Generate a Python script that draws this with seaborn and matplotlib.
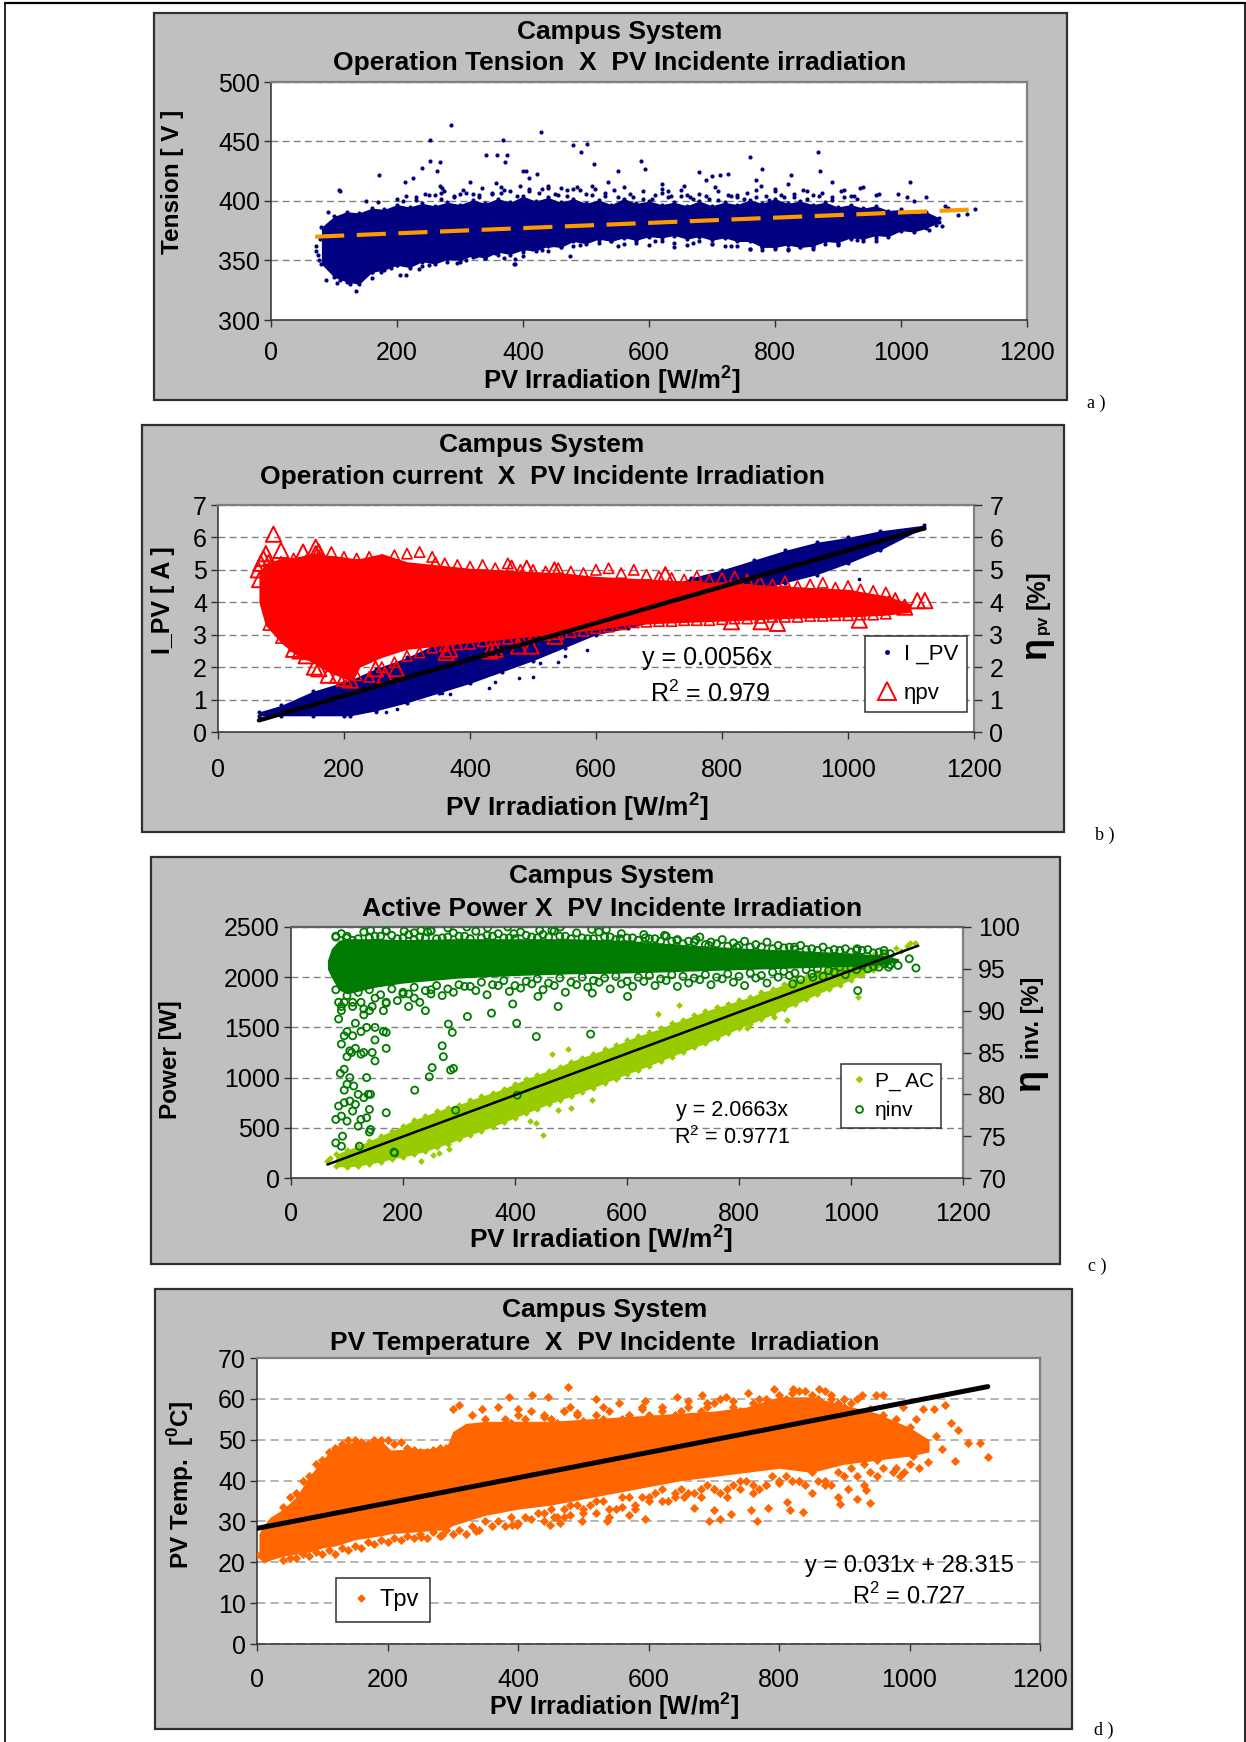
import matplotlib
matplotlib.use("Agg")
import matplotlib.pyplot as plt
from matplotlib.patches import Rectangle
from matplotlib.lines import Line2D
import seaborn as sns

W, H = 1246, 1742
SANS = "Liberation Sans"
SERIF = "Liberation Serif"

irr_ticks = [0, 200, 400, 600, 800, 1000, 1200]
edge_x = list(range(80, 1080, 20))  # irradiation steps used for the hand read cloud edges
edge2_x = list(range(90, 1090, 20))

# a) tension
a_hi_x = list(range(80, 1061, 20))
a_hi = [378, 387, 391, 390, 394, 393, 397, 395, 398, 396,
        399, 397, 401, 398, 402, 399, 404, 400, 403, 399,
        402, 398, 401, 397, 402, 398, 400, 397, 399, 396,
        400, 396, 399, 397, 401, 398, 402, 398, 400, 397,
        399, 395, 397, 394, 396, 392, 393, 389, 391, 386]
a_lo = [347, 336, 332, 330, 340, 342, 346, 344, 349, 347,
        351, 350, 354, 352, 357, 355, 359, 358, 362, 361,
        366, 364, 368, 366, 369, 367, 370, 369, 371, 368,
        370, 367, 369, 366, 366, 361, 361, 363, 361, 362,
        366, 365, 369, 368, 371, 370, 375, 374, 377, 382]
a_left_x = [72, 74, 76, 78, 72]
a_left_y = [362, 355, 350, 368, 358]
a_top_x = [200, 215, 230, 245, 260, 275, 290, 305, 320, 335, 350, 365, 380, 395, 410, 425, 440, 455, 470, 485,
           500, 515, 530, 545, 560, 575, 590, 605, 620, 635, 650, 665, 680, 695, 710, 725, 740, 755, 770, 785,
           800, 815, 830, 845, 860, 875, 890, 905, 920, 935]
a_top_y = [402, 404, 401, 406, 405, 408, 403, 409, 406, 411, 407, 412, 408, 413, 410, 407, 411, 405, 409, 412,
           406, 410, 404, 409, 412, 403, 408, 402, 407, 404, 409, 403, 406, 402, 408, 405, 403, 407, 409, 404,
           408, 403, 406, 409, 405, 407, 403, 408, 404, 411]
a_top2_x = list(range(210, 950, 20))
a_top2_y = [400, 403, 405, 402, 404, 407, 403, 406, 409, 404, 408, 410, 406, 404, 409, 405, 407, 403, 406, 402,
            405, 403, 404, 402, 404, 401, 404, 402, 403, 401, 405, 403, 402, 404, 401, 403, 402]
a_bot_x = [160, 175, 190, 205, 220, 235, 250, 265, 280, 295, 310, 325, 340, 355, 370, 385, 400, 415, 430, 445,
           460, 490, 520, 550, 580, 610, 640, 670, 700, 730, 760, 780, 800, 820, 840, 860, 880, 900, 930, 960]
a_bot_y = [335, 340, 344, 338, 349, 343, 346, 351, 349, 348, 350, 354, 352, 356, 352, 347, 357, 360, 359, 363,
           364, 363, 367, 362, 365, 366, 361, 365, 364, 362, 360, 359, 360, 359, 361, 360, 364, 363, 367, 366]
a_bot2_x = list(range(120, 980, 20))
a_bot2_y = [335, 338, 340, 344, 346, 348, 345, 350, 352, 349, 353, 352, 355, 358, 354, 360, 358, 361, 362, 366,
            365, 366, 364, 367, 363, 366, 365, 363, 366, 364, 362, 362, 360, 361, 361, 360, 362, 361, 366, 364,
            368, 366, 369]
a_x = [285, 429, 253, 368, 479, 502, 492, 341, 358, 374, 371, 253, 269, 239, 512, 587, 593, 761, 868, 872, 779, 400, 405, 357, 172, 212, 226, 263, 268, 272, 110, 108, 316, 440, 422, 410, 550, 535, 655, 620, 620, 680, 690, 700, 712, 725, 770, 778, 800, 820, 825, 890, 1015, 1040, 940, 965, 995, 1020, 1070, 1075, 1090, 1105, 1118, 1065, 1055, 1045, 135, 105, 110, 125, 85, 88, 215, 475, 387, 388, 90, 170, 150, 270, 300, 330, 365, 460, 480, 510, 630, 660, 705, 740, 850, 910, 925, 960, 1010]
a_y = [464, 458, 451, 451, 447, 448, 441, 439, 439, 439, 433, 434, 433, 428, 431, 434, 427, 437, 441, 425, 427, 425, 425, 415, 422, 416, 419, 425, 413, 411, 408, 409, 416, 413, 423, 419, 425, 416, 413, 410, 414, 424, 418, 421, 422, 423, 418, 413, 410, 414, 422, 416, 416, 403, 412, 406, 406, 400, 396, 394, 388, 389, 393, 379, 380, 376, 324, 331, 334, 330, 350, 334, 338, 354, 351, 347, 391, 399, 400, 407, 406, 405, 407, 411, 410, 413, 408, 405, 412, 405, 408, 409, 404, 405, 403]
a_trend_x = [70, 1120]
a_trend_y = [370, 393]

# b) current and pv efficiency
b_blue_x = [65, 100, 150, 200, 210, 250, 300, 350, 400, 450, 500, 550, 600, 650, 700, 750, 800, 850, 900, 950, 1000, 1050, 1121]
b_blue_hi = [0.62, 0.82, 1.25, 1.55, 1.6, 1.95, 2.3, 2.75, 3.0, 3.3, 3.5, 3.7, 3.9, 4.1, 4.35, 4.75, 5.0, 5.3, 5.6, 5.85, 6.0, 6.2, 6.38]
b_blue_lo = [0.5, 0.5, 0.5, 0.5, 0.5, 0.65, 0.9, 1.2, 1.5, 1.85, 2.2, 2.6, 3.0, 3.2, 3.45, 3.75, 4.05, 4.35, 4.6, 4.85, 5.2, 5.6, 6.3]
b_blue_out_x = [250, 267, 284, 341, 356, 369, 407, 430, 440, 478, 500, 511, 539, 551, 585, 1018, 990, 1040, 1052]
b_blue_out_y = [0.63, 0.63, 0.7, 1.3, 1.2, 1.16, 1.65, 1.35, 1.55, 1.65, 1.7, 2.12, 2.17, 2.35, 2.53, 4.72, 5.2, 5.57, 5.67]
b_red_x = [65, 75, 100, 125, 150, 175, 200, 215, 225, 260, 300, 350, 400, 500, 550, 600, 650, 700, 800, 900, 1000, 1060, 1100]
b_red_hi = [4.9, 5.2, 5.35, 5.4, 5.5, 5.45, 5.4, 5.35, 5.35, 5.5, 5.25, 5.15, 5.05, 4.95, 4.9, 4.8, 4.75, 4.7, 4.6, 4.5, 4.4, 4.2, 3.95]
b_red_lo = [4.0, 3.3, 2.75, 2.35, 2.15, 1.85, 1.65, 1.6, 2.0, 2.3, 2.55, 2.65, 2.75, 2.95, 3.05, 3.15, 3.3, 3.35, 3.42, 3.5, 3.55, 3.6, 3.7]
b_red_top = [5.3, 5.25, 5.35, 5.3, 5.45, 5.55, 5.4, 5.35, 5.4, 5.3,
             5.45, 5.5, 5.55, 5.4, 5.2, 5.15, 5.1, 5.15, 5.05, 5.2,
             5.0, 5.0, 4.95, 5.05, 4.95, 4.9, 5.0, 5.05, 4.9, 5.0,
             4.85, 4.8, 4.75, 4.7, 4.8, 4.7, 4.75, 4.8, 4.7, 4.65,
             4.55, 4.65, 4.5, 4.55, 4.6, 4.45, 4.5, 4.4, 4.35, 4.3]
b_red_bot = [3.3, 2.9, 2.65, 2.4, 2.3, 2.05, 1.95, 1.75, 1.7, 2.0,
             2.15, 2.35, 2.45, 2.6, 2.65, 2.7, 2.72, 2.8, 2.85, 2.88,
             2.92, 2.95, 3.0, 3.02, 3.08, 3.12, 3.2, 3.25, 3.32, 3.38,
             3.4, 3.42, 3.42, 3.45, 3.45, 3.45, 3.48, 3.5, 3.5, 3.52,
             3.55, 3.55, 3.55, 3.58, 3.58, 3.6, 3.6, 3.62, 3.62, 3.65]
b_red_out_x = [88, 100, 76, 72, 68, 64, 66, 135, 155, 155, 160, 345, 466, 490, 534, 710, 362, 368, 432, 440, 477, 497, 535, 815, 862, 888, 1018, 1110, 1122, 1090, 1065, 1075, 250, 265, 283, 153, 140, 130, 210, 200, 190, 175, 160, 120]
b_red_out_y = [6.1, 5.6, 5.5, 5.35, 5.2, 5.0, 4.7, 5.55, 5.7, 5.5, 5.55, 5.15, 5.05, 5.05, 5.0, 4.85, 2.45, 2.55, 2.5, 2.55, 2.65, 2.65, 2.95, 3.4, 3.4, 3.35, 3.45, 4.05, 4.05, 3.85, 3.95, 4.05, 1.95, 1.75, 1.95, 2.0, 2.35, 2.5, 1.6, 1.65, 1.75, 1.75, 1.95, 2.55]
b_trend_x = [65, 1121]
b_trend_y = [0.36, 6.28]

# c) active power and inverter efficiency
c_lime_hi = [235, 280, 320, 370, 420, 470, 520, 580, 620, 665,
             700, 730, 775, 815, 850, 890, 940, 985, 1030, 1070,
             1110, 1160, 1200, 1240, 1280, 1320, 1370, 1415, 1450, 1490,
             1540, 1575, 1620, 1660, 1700, 1730, 1770, 1800, 1850, 1880,
             1930, 1970, 2000, 2050, 2090, 2125, 2165, 2190, 2225, 2240]
c_lime_lo = [115, 110, 120, 140, 160, 190, 210, 235, 265, 305,
             340, 385, 430, 470, 510, 555, 600, 645, 690, 735,
             775, 815, 860, 900, 945, 990, 1035, 1075, 1120, 1165,
             1210, 1255, 1300, 1340, 1390, 1440, 1490, 1535, 1580, 1630,
             1680, 1730, 1780, 1830, 1880, 1925, 1975, 2025, 2070, 2120]
c_lime_end_x = [65, 70, 1080, 1090, 1100]
c_lime_end_y = [170, 200, 2290, 2260, 2310]
c_lime_out_x = [1115, 1106, 1012, 814, 863, 886, 655, 692, 494, 466, 450, 427, 438, 500, 477, 537, 283, 232, 253, 264]
c_lime_out_y = [2345, 2340, 1800, 1494, 1606, 1573, 1629, 1722, 1285, 1235, 430, 563, 546, 702, 679, 778, 288, 165, 232, 248]
c_eff_x = [65, 72, 85, 100, 150, 200, 300, 400, 500, 600, 700, 800, 900, 1000, 1060, 1085]
c_eff_hi = [96.0, 97.4, 98.4, 98.6, 98.6, 98.5, 98.6, 98.6, 98.6, 98.4, 97.9, 97.5, 97.2, 96.9, 96.6, 96.2]
c_eff_lo = [95.0, 94.0, 92.5, 92.0, 92.8, 93.3, 93.9, 94.2, 94.4, 94.5, 94.7, 94.9, 95.1, 95.3, 95.5, 95.9]
c_eff_top = [98.8, 98.9, 98.6, 98.7, 98.9, 99, 98.7, 98.5, 98.7, 98.6,
             98.8, 98.9, 98.6, 98.7, 98.9, 98.7, 98.6, 99, 98.7, 98.8,
             98.9, 98.6, 98.7, 98.6, 98.8, 98.5, 98.7, 98.4, 98.6, 98.3,
             98.3, 98, 98.2, 97.9, 98, 97.7, 97.8, 97.6, 97.6, 97.4,
             97.5, 97.3, 97.3, 97.2, 97.1, 97.2, 97, 97.2, 96.9, 96.8]
c_eff_bot = [92.5, 91.8, 92.2, 92.5, 91.9, 92.6, 92.2, 92.8, 92.4, 93,
             92.6, 93.1, 92.9, 93.4, 93.1, 93.6, 93, 93.5, 93.8, 93.3,
             93.9, 93.4, 94, 93.6, 93.9, 94.1, 93.5, 94, 94.2, 93.8,
             94.3, 94.1, 93.9, 94.3, 94, 94.4, 94.1, 94.5, 94.2, 94.6,
             94.7, 94.5, 94.9, 95, 94.8, 95.2, 95.1, 95.4, 95.3, 95.6]
c_eff_top2 = [99.2, 98.4, 99.4, 98.9, 99.5, 98.6, 99.1, 98.8, 99.6, 98.7,
              99.3, 98.9, 99.5, 99, 99.2, 98.7, 99.4, 98.8, 99.1, 99.5,
              98.9, 99.3, 98.6, 99.4, 98.8, 99.2, 98.7, 99.1, 98.6, 98.9,
              98.5, 98.3, 98.8, 98.2, 98.5, 98.1, 98.3, 97.9, 98.2, 97.8,
              97.6, 97.8, 97.4, 97.6, 97.3, 97.4, 97.2, 97.3, 97, 96.8]
c_eff_bot2 = [90.5, 91, 90.2, 91.5, 90.9, 91.2, 92, 91, 92.5, 91.8,
              92.2, 92.9, 92.4, 91.9, 93, 92.3, 92.7, 93.2, 92.5, 93,
              92.2, 93.1, 92.8, 93.4, 92.6, 93.2, 92.9, 93.5, 93, 93.6,
              92.9, 93.3, 93.7, 93.1, 93.8, 93.4, 93, 93.9, 93.3, 94,
              94.2, 93.7, 94.4, 94.1, 94.6, 94.3, 94.9, 95, 95.2, 95.5]
c_eff_out_x = [80, 90, 92, 122, 140, 142, 185, 80, 90, 100, 110, 120, 125, 135, 140, 85, 95, 105, 115, 130, 138, 95, 100, 105, 112, 120, 135, 142, 170, 88, 95, 100, 105, 108, 115, 125, 130, 145, 150, 170, 90, 95, 100, 110, 125, 135, 150, 165, 170, 85, 90, 115, 130, 140, 150, 85, 95, 110, 125, 145, 165, 170, 200, 210, 220, 240, 250,
               221, 247, 252, 272, 270, 285, 290, 281, 288, 315, 358, 396, 403, 438, 477, 535, 441, 404, 294, 184, 1012, 601, 538, 1116, 1104, 1084, 1067, 1059, 1011, 899, 932, 896,
               220, 232, 250, 280, 314, 351, 387, 481, 444, 466, 537, 563, 667, 723, 142, 170, 202, 80, 99, 244, 398, 588, 633, 689, 746, 796]
c_eff_out_y = [74.2, 73.8, 75, 73.8, 75.5, 75.8, 73, 77, 77.4, 76.8, 78, 76.2, 77, 77.2, 78.2, 78.6, 79, 79.2, 78.8, 79.6, 80, 80.5, 81.2, 82, 81, 80, 82, 80, 77.8, 82.5, 83, 84.5, 85.2, 85, 85.5, 84.8, 85, 85, 84, 85.5, 86, 87, 87.5, 87, 87.5, 88, 86.5, 87.5, 87.4, 89, 90, 88.5, 89.5, 90, 88, 91, 91, 90.5, 91, 90.5, 90, 91, 92, 90.5, 91.5, 90, 92,
               80.5, 82.1, 83.2, 84.5, 85.8, 82.9, 83.1, 88.4, 87.4, 89.3, 89.7, 90.8, 88.5, 86.9, 90.5, 87.2, 91.7, 79.9, 78.1, 73.1, 92.4, 91.7, 92.1, 95.1, 96.2, 95.4, 95.2, 97.2, 97.4, 97.6, 94, 93.2,
               99.3, 99.6, 99.5, 99.9, 100, 99.9, 100, 100, 99.6, 99.6, 99.7, 99.7, 99, 98.5, 99.6, 99.6, 99.5, 98.9, 98.7, 99.4, 99.2, 98.6, 98.7, 98.4, 97.8, 97.6]
c_trend_x = [65, 1120]
c_trend_y = [134, 2314]

# d) pv temperature
d_core_x = [3, 10, 20, 40, 60, 80, 100, 120, 150, 190, 205, 290, 300, 320, 350, 400, 450, 500, 550, 600, 650, 700, 750, 800, 850, 900, 950, 1000, 1030]
d_core_hi = [27, 29, 31, 33, 36, 41, 45, 48.5, 49.5, 49.8, 47.5, 48, 52, 54, 54.5, 54.5, 54.5, 55, 55.5, 56, 56.5, 57, 58, 60.5, 60.5, 58.5, 56.5, 53, 50]
d_core_lo = [21, 19.8, 20.5, 21.5, 22, 22.5, 23.5, 24, 25.5, 26.5, 27, 28, 29, 30, 31.5, 33, 34, 35.5, 37, 38.5, 40, 41, 42, 43, 42, 44, 45, 46, 47]
d_edge_x = list(range(40, 1020, 20))
d_top = [33.5, 37, 41, 45, 48, 50, 49.5, 50, 50,
         49.5, 47.5, 47, 48, 47.5, 48, 48, 48.5, 55, 56,
         57, 55.5, 54, 58, 54.5, 56, 57, 55, 54, 56,
         57, 56, 58, 57, 59, 56, 57, 59, 60, 61,
         61.5, 62, 60, 61, 58, 60, 57.5, 56, 55, 53]
d_bot = [20.5, 21, 21.5, 22, 22, 23, 23.5, 24.5, 25,
         25.5, 26, 26, 26.5, 27, 27, 28, 29, 29, 29.5,
         30.5, 30, 31, 31.5, 33, 32, 33, 33.5, 34, 35,
         35, 36, 37, 36, 38, 38, 38, 39, 39, 39.5,
         40, 39, 40, 39, 41, 41, 42, 43, 43, 44]
d_edge2_x = list(range(50, 970, 20))
d_top2 = [36, 40, 44, 47, 49, 50, 49, 50, 49, 48, 47, 47.5, 48, 47.5, 48, 50, 53, 54,
          55, 53, 55, 57, 56, 54, 55, 53, 56, 58, 55, 54, 57, 55, 58, 60, 58, 56, 58, 59,
          60, 62, 61, 62, 59, 59, 56, 54]
d_bot2 = [21, 22, 22.5, 23, 23.5, 24, 25, 25.5, 26, 26.5, 27, 27.5, 28, 28, 29, 30, 30, 31,
          31, 32, 33, 31, 34, 34, 35, 33, 36, 36, 37, 35, 38, 37, 39, 37, 39, 40, 38, 41,
          41, 40, 42, 40, 42, 43, 44, 45]
d_out_x = [476, 386, 422, 446, 519, 595, 643, 682, 719, 752, 793, 822, 861, 927, 948, 1055, 1037, 1020, 1064, 1074, 1089, 1108, 1120, 1069, 1028, 1050, 992, 939, 934, 919, 893, 837, 817, 813, 766, 783, 757, 727, 709, 693, 701, 670, 595, 570, 536, 498, 449, 464, 391, 399, 336, 283, 251, 0,
           300, 310, 330, 345, 350, 370, 400, 440, 470, 490, 530, 555, 590, 620, 660, 690, 730, 770, 900, 880, 960, 990, 1010, 1000,
           440, 455, 470, 480, 500, 520, 540, 560, 580, 600, 620, 640, 655, 680, 700, 720, 740, 760, 780, 800, 830, 850, 870, 890, 905, 930, 950, 975, 985, 1005, 1015, 1040]
d_out_y = [62.9, 60.5, 60.9, 60.5, 59.9, 59.5, 60.5, 60.9, 60.5, 61.5, 62.5, 62.5, 62.5, 60.9, 60.9, 58.4, 57.6, 57.6, 54, 52.3, 49.3, 49.3, 45.8, 44.7, 44.6, 47.8, 42.1, 34.4, 37.6, 35.6, 34.2, 32.2, 32.8, 34.8, 30.2, 33.2, 32.9, 31.7, 30.7, 30.2, 32.8, 33.2, 30.7, 31.5, 30.2, 30.2, 29.1, 29.5, 29.1, 29.1, 27.7, 26.6, 26.2, 21.8,
           57.5, 58.5, 56, 57.5, 55, 58, 57.5, 56, 57, 56.5, 58, 59, 57.5, 58, 59.5, 59, 59.5, 60, 60, 60, 61, 58, 55, 50,
           32, 31, 33, 34, 32, 35, 31, 36, 33, 36, 38, 37, 36, 38, 38, 36, 40, 37, 39, 40, 40, 37, 39, 36, 38, 39, 41, 42, 41, 46, 43, 51]
d_trend_x = [0, 1120]
d_trend_y = [28.3, 63]

sns.set_style("white")
plt.rcParams["font.family"] = [SANS, "DejaVu Sans"]
plt.rcParams["text.color"] = "black"
plt.rcParams["mathtext.fontset"] = "custom"
plt.rcParams["mathtext.rm"] = SANS
plt.rcParams["mathtext.bf"] = SANS + ":bold"

fig = plt.figure(figsize=(W / 100, H / 100), dpi=100, facecolor="white")


def rect_px(x0, y0, x1, y1, **kw):
    fig.add_artist(Rectangle((x0 / W, 1 - y1 / H), (x1 - x0) / W, (y1 - y0) / H,
                             transform=fig.transFigure, **kw))


def text_px(x, y, s, **kw):
    kw.setdefault("ha", "center")
    kw.setdefault("va", "center")
    fig.text(x / W, 1 - y / H, s, **kw)


def make_panel(frame, plot, ylim, yticks, pad, tick_size=18):
    rect_px(*frame, facecolor="#C0C0C0", edgecolor="#303030", linewidth=1.6, zorder=-5)
    x0, y0, x1, y1 = plot
    ax = fig.add_axes([x0 / W, 1 - y1 / H, (x1 - x0) / W, (y1 - y0) / H], facecolor="white")
    ax.set_xlim(0, 1200)
    ax.set_ylim(*ylim)
    ax.set_xticks(irr_ticks)
    ax.set_yticks(yticks)
    ax.yaxis.grid(True, color="#808080", linestyle=(0, (5, 3)), linewidth=1)
    ax.xaxis.grid(False)
    ax.set_axisbelow(True)
    ax.tick_params(axis="both", which="major", direction="out", length=5, width=1, color="#303030",
                   left=True, bottom=True, labelsize=tick_size, labelcolor="black")
    ax.tick_params(axis="x", pad=pad)
    ax.tick_params(axis="y", pad=3)
    for s in ["left", "bottom"]:
        ax.spines[s].set_color("#303030")
        ax.spines[s].set_linewidth(1.1)
    for s in ["top", "right"]:
        ax.spines[s].set_visible(True)
        ax.spines[s].set_color("#808080")
        ax.spines[s].set_linewidth(1.6)
    return ax


def right_axis(ax, ylim, yticks, tick_size=18):
    ax2 = ax.twinx()
    ax2.set_ylim(*ylim)
    ax2.set_yticks(yticks)
    ax2.grid(False)
    ax2.tick_params(axis="y", right=True, direction="out", length=6, width=1, color="#303030",
                    labelsize=tick_size, pad=5, labelcolor="black")
    for s in ax2.spines.values():
        s.set_visible(False)
    return ax2


def cloud(ax, x, lo, hi, color, z=2):
    ax.fill_between(x, lo, hi, color=color, linewidth=0, zorder=z)


def dots(ax, x, y, color, marker="o", s=7, z=3):
    sns.scatterplot(x=x, y=y, ax=ax, color=color, marker=marker, s=s, linewidth=0, legend=False, zorder=z)


def hollow(ax, x, y, color, marker, s, lw, z=3):
    ax.scatter(x, y, marker=marker, s=s, facecolors="none", edgecolors=color, linewidths=lw, zorder=z)


def trend(ax, x, y, color="black", lw=3, **kw):
    sns.lineplot(x=x, y=y, ax=ax, color=color, linewidth=lw, legend=False, zorder=6, **kw)


def titles(x, y1, y2, t1, t2, size=19):
    text_px(x, y1, t1, fontsize=size, fontweight="bold")
    text_px(x, y2, t2, fontsize=size, fontweight="bold")


def legend_box(ax, handles, labels, cx, cy, size=16, **kw):
    leg = ax.legend(handles, labels, loc="center", bbox_to_anchor=(cx / W, 1 - cy / H),
                    bbox_transform=fig.transFigure, fancybox=False, framealpha=1,
                    edgecolor="#303030", facecolor="white", fontsize=size, handletextpad=0.2, **kw)
    leg.get_frame().set_linewidth(1.1)
    leg.set_zorder(20)


NAVY = "#000080"
RED = "#FF0000"
LIME = "#99CC00"
GREEN = "#007A00"
ORANGE = "#FF6600"
XLABEL = "PV Irradiation [W/m$^{\\mathbf{2}}$]"

# --- a
ax = make_panel((154, 13, 1067, 400), (271, 82, 1027, 320), (300, 500), [300, 350, 400, 450, 500], 10)
cloud(ax, a_hi_x, a_lo, a_hi, NAVY)
for px, py in [(a_hi_x, a_hi), (a_hi_x, a_lo), (a_top_x, a_top_y), (a_top2_x, a_top2_y), (a_bot_x, a_bot_y),
               (a_bot2_x, a_bot2_y), (a_x, a_y), (a_left_x, a_left_y)]:
    dots(ax, px, py, NAVY, s=9)
trend(ax, a_trend_x, a_trend_y, color="#FF9900", lw=3, linestyle=(0, (7, 3)))
titles(620, 32, 63, "Campus System", "Operation Tension  X  PV Incidente irradiation")
text_px(612, 380, XLABEL, fontsize=18.5, fontweight="bold")
text_px(173, 182, "Tension [ V ]", fontsize=17.5, fontweight="bold", rotation=90)
text_px(1096, 403, "a )", fontsize=13, family=SERIF)

# --- b
ax = make_panel((142, 425, 1064, 832), (218, 505, 974, 732), (0, 7), list(range(8)), 14)
ax2 = right_axis(ax, (0, 7), list(range(8)))
cloud(ax, b_blue_x, b_blue_lo, b_blue_hi, NAVY)
dots(ax, b_blue_x, b_blue_hi, NAVY, s=9)
dots(ax, b_blue_x, b_blue_lo, NAVY, s=9)
dots(ax, b_blue_out_x, b_blue_out_y, NAVY, s=7)
cloud(ax2, b_red_x, b_red_lo, b_red_hi, RED)
hollow(ax2, edge_x, b_red_top, RED, "^", 55, 1.2)
hollow(ax2, edge_x, b_red_bot, RED, "^", 55, 1.2)
hollow(ax2, b_red_out_x, b_red_out_y, RED, "^", 120, 1.4)
trend(ax2, b_trend_x, b_trend_y, lw=3.2)
titles(542, 445, 477, "Campus System", "Operation current  X  PV Incidente Irradiation")
text_px(577, 807, XLABEL, fontsize=19, fontweight="bold")
text_px(163, 600, "I_PV [ A ]", fontsize=18, fontweight="bold", rotation=90)
text_px(1036, 648, "η", fontsize=26, fontweight="bold", rotation=90)
text_px(1042, 624, "pv", fontsize=12, fontweight="bold", rotation=90)
text_px(1038, 590, "[%]", fontsize=18, fontweight="bold", rotation=90)
text_px(707, 658, "y = 0.0056x", fontsize=18)
text_px(710, 694, "R$^{2}$ = 0.979", fontsize=18)
legend_box(ax2,
           [Line2D([], [], marker="o", color=NAVY, linestyle="", markersize=2.5),
            Line2D([], [], marker="^", markerfacecolor="none", markeredgecolor=RED, markeredgewidth=1.4, linestyle="", markersize=13)],
           ["I _PV", "ηpv"], 916, 674, labelspacing=0.8, borderpad=0.35, handlelength=1.2)
text_px(1105, 835, "b )", fontsize=13, family=SERIF)

# --- c
ax = make_panel((151, 857, 1060, 1264), (291, 927, 963, 1178), (0, 2500), [0, 500, 1000, 1500, 2000, 2500], 12)
ax2 = right_axis(ax, (70, 100), [70, 75, 80, 85, 90, 95, 100])
ax.spines["top"].set_color("#606060")
cloud(ax, edge_x, c_lime_lo, c_lime_hi, LIME)
for px, py, sz in [(edge_x, c_lime_hi, 12), (edge_x, c_lime_lo, 12), (c_lime_end_x, c_lime_end_y, 12), (c_lime_out_x, c_lime_out_y, 12)]:
    dots(ax, px, py, LIME, marker="D", s=sz)
cloud(ax2, c_eff_x, c_eff_lo, c_eff_hi, GREEN)
for px, py in [(edge_x, c_eff_top), (edge_x, c_eff_bot), (edge2_x, c_eff_top2), (edge2_x, c_eff_bot2), (c_eff_out_x, c_eff_out_y)]:
    hollow(ax2, px, py, GREEN, "o", 26, 1.3)
top = ax.twinx()
top.set_ylim(ax.get_ylim())
top.axis("off")
trend(top, c_trend_x, c_trend_y, lw=1.8)
titles(612, 876, 909, "Campus System", "Active Power X  PV Incidente Irradiation")
text_px(601, 1239, XLABEL, fontsize=19, fontweight="bold")
text_px(171, 1060, "Power [W]", fontsize=17.5, fontweight="bold", rotation=90)
text_px(1030, 1080, "η", fontsize=26, fontweight="bold", rotation=90)
text_px(1033, 1018, "inv. [%]", fontsize=17, fontweight="bold", rotation=90)
text_px(732, 1110, "y = 2.0663x", fontsize=15.5)
text_px(732, 1138, "R$^{2}$ = 0.9771", fontsize=15.5)
legend_box(top,
           [Line2D([], [], marker="D", color=LIME, linestyle="", markersize=3),
            Line2D([], [], marker="o", markerfacecolor="none", markeredgecolor=GREEN, markeredgewidth=1.3, linestyle="", markersize=5)],
           ["P_ AC", "ηinv"], 891, 1096, size=15, labelspacing=0.5, borderpad=0.35, handlelength=1.1)
text_px(1097, 1266, "c )", fontsize=13, family=SERIF)

# --- d
ax = make_panel((155, 1289, 1072, 1729), (257, 1358, 1040, 1644), (0, 70), list(range(0, 71, 10)), 12)
ax.yaxis.grid(True, color="#A8A8A8", linestyle=(0, (5, 3)), linewidth=1.2)
cloud(ax, d_core_x, d_core_lo, d_core_hi, ORANGE)
for px, py in [(d_edge_x, d_top), (d_edge_x, d_bot), (d_edge2_x, d_top2), (d_edge2_x, d_bot2), (d_out_x, d_out_y)]:
    dots(ax, px, py, ORANGE, marker="D", s=22)
trend(ax, d_trend_x, d_trend_y, lw=3.6)
titles(605, 1310, 1343, "Campus System", "PV Temperature  X  PV Incidente  Irradiation")
text_px(614, 1706, XLABEL, fontsize=18, fontweight="bold")
text_px(181, 1485, "PV Temp.  [$^{\\mathbf{0}}$C]", fontsize=17.5, fontweight="bold", rotation=90)
text_px(909, 1566, "y = 0.031x + 28.315", fontsize=17)
text_px(909, 1596, "R$^{2}$ = 0.727", fontsize=17)
legend_box(ax, [Line2D([], [], marker="D", color=ORANGE, linestyle="", markersize=3.5)], ["Tpv"], 383, 1600,
           size=17, borderpad=0.45, handlelength=1.2)
text_px(1104, 1730, "d )", fontsize=13, family=SERIF)

# page border
fig.add_artist(Line2D([5 / W, 5 / W], [0, 1 - 3 / H], color="black", linewidth=1.2, transform=fig.transFigure))
fig.add_artist(Line2D([5 / W, 1 - 1 / W], [1 - 3 / H, 1 - 3 / H], color="black", linewidth=1.6, transform=fig.transFigure))
fig.add_artist(Line2D([1 - 1 / W, 1 - 1 / W], [0, 1 - 3 / H], color="black", linewidth=1.2, transform=fig.transFigure))

fig.savefig("out.png", dpi=100, facecolor="white")
